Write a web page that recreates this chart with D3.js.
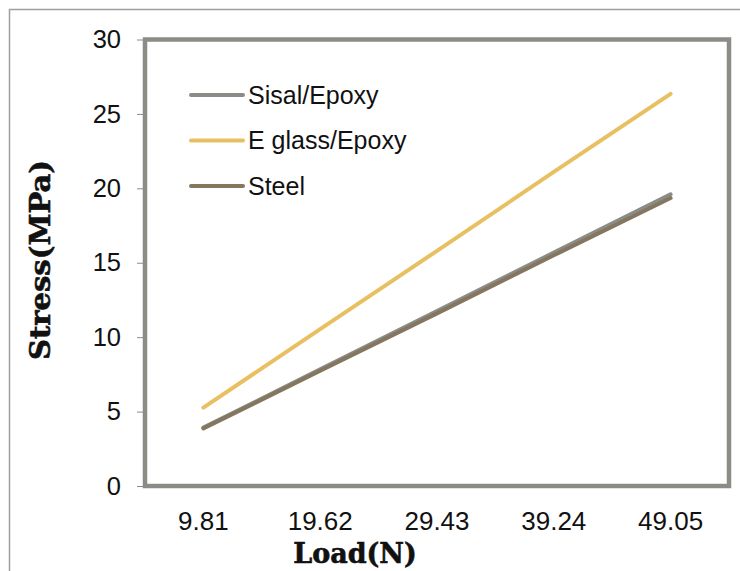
<!DOCTYPE html>
<html>
<head>
<meta charset="utf-8">
<script src="https://cdn.jsdelivr.net/npm/d3@7"></script>
<style>
  body { margin: 0; background: #fff; }
  svg { display: block; }
</style>
</head>
<body>
<div id="chart"></div>
<script>
// data
var loads = ["9.81", "19.62", "29.43", "39.24", "49.05"];
var sisal = [3.92, 7.84, 11.76, 15.68, 19.6];
var eglass = [5.27, 10.54, 15.8, 21.1, 26.35];
var steel = [3.87, 7.74, 11.6, 15.5, 19.35];
var yTicks = [0, 5, 10, 15, 20, 25, 30];
var seriesNames = ["Sisal/Epoxy", "E glass/Epoxy", "Steel"];
var seriesColors = ["#8c8c86", "#e8c062", "#857660"];

var series = [sisal, eglass, steel].map(function(v, i) {
  return { name: seriesNames[i], color: seriesColors[i],
           values: v.map(function(d, j) { return { key: loads[j], value: d }; }) };
});

var W = 740, H = 571;
var margin = {top: 39.5, right: 11, bottom: 85, left: 145};
var width = W - margin.left - margin.right,
    height = H - margin.top - margin.bottom;

var root = d3.select("#chart").append("svg")
    .attr("width", W).attr("height", H);

// outer frame
root.append("path")
    .attr("d", "M9.5," + H + "V9.5H" + W)
    .attr("fill", "none").attr("stroke", "#a0a09a").attr("stroke-width", 1.5);

var svg = root.append("g")
    .attr("transform", "translate(" + margin.left + "," + margin.top + ")");

var x = d3.scaleBand().domain(loads).range([0, width]);
var y = d3.scaleLinear().domain([0, 30]).range([height, 0]);

// y axis
var yAxis = svg.append("g")
    .call(d3.axisLeft(y).tickValues(yTicks).tickSize(8).tickPadding(16));
yAxis.select(".domain").remove();
yAxis.selectAll("line").attr("stroke", "#8c8c86");
yAxis.selectAll("text")
    .style("font-family", "Liberation Sans, Arial, sans-serif")
    .style("font-size", "25.5px").attr("fill", "#111");

// x axis labels
var xAxis = svg.append("g")
    .attr("transform", "translate(0," + height + ")")
    .call(d3.axisBottom(x).tickSize(0).tickPadding(26));
xAxis.select(".domain").remove();
xAxis.selectAll("text")
    .style("font-family", "Liberation Sans, Arial, sans-serif")
    .style("font-size", "26px").attr("fill", "#111");

// lines
var line = d3.line()
    .x(function(d) { return x(d.key) + x.bandwidth() / 2; })
    .y(function(d) { return y(d.value); });

svg.selectAll(".series")
    .data(series)
    .enter().append("path")
    .attr("class", "series")
    .attr("fill", "none")
    .attr("stroke", function(d) { return d.color; })
    .attr("stroke-width", 4)
    .attr("stroke-linecap", "round")
    .attr("d", function(d) { return line(d.values); });

// plot border
svg.append("rect")
    .attr("x", 0).attr("y", 0)
    .attr("width", width).attr("height", height)
    .attr("fill", "none").attr("stroke", "#8c8c86").attr("stroke-width", 4.5);

// legend
var legend = svg.selectAll(".legend")
    .data(series)
    .enter().append("g")
    .attr("transform", function(d, i) { return "translate(46," + (55.5 + i * 45.5) + ")"; });
legend.append("line")
    .attr("x1", 0).attr("x2", 52)
    .attr("stroke", function(d) { return d.color; })
    .attr("stroke-width", 4).attr("stroke-linecap", "round");
legend.append("text")
    .attr("x", 57).attr("dy", "0.35em")
    .style("font-family", "Liberation Sans, Arial, sans-serif")
    .style("font-size", "25px").attr("fill", "#111")
    .text(function(d) { return d.name; });

// axis titles
root.append("text")
    .attr("x", 355).attr("y", 563)
    .style("text-anchor", "middle")
    .style("font-family", "DejaVu Serif, serif").style("font-weight", "bold")
    .style("font-size", "27px").attr("fill", "#111")
    .attr("stroke", "#111").attr("stroke-width", 0.6)
    .text("Load(N)");

root.append("text")
    .attr("transform", "translate(50,260) rotate(-90)")
    .style("text-anchor", "middle")
    .style("font-family", "DejaVu Serif, serif").style("font-weight", "bold")
    .style("font-size", "27px").attr("fill", "#111")
    .attr("stroke", "#111").attr("stroke-width", 0.6)
    .attr("textLength", 200).attr("lengthAdjust", "spacingAndGlyphs")
    .text("Stress(MPa)");
</script>
</body>
</html>
